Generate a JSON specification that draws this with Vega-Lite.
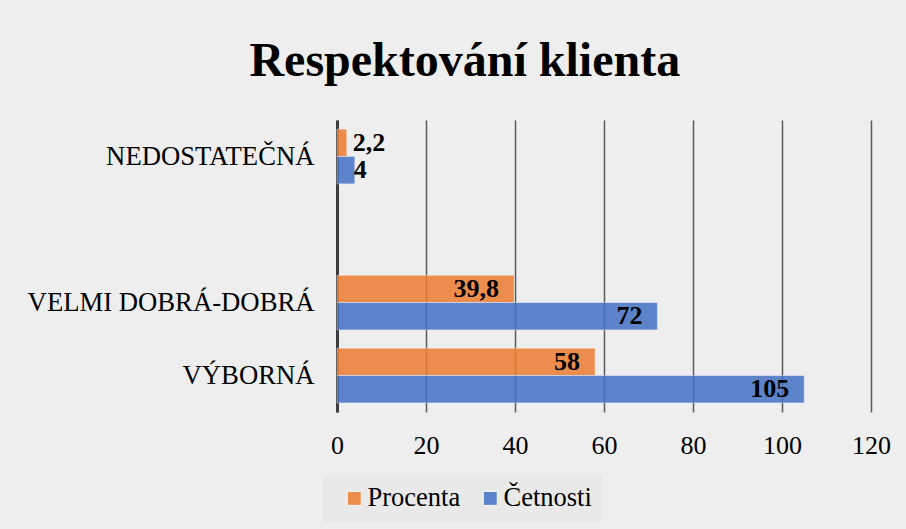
{
  "$schema": "https://vega.github.io/schema/vega-lite/v6.json",
  "width": 534,
  "height": 292,
  "autosize": {"type": "none"},
  "padding": {"left": 337, "top": 120, "right": 35, "bottom": 117},
  "background": "#eeeeee",
  "title": {
    "text": "Respektování klienta",
    "font": "Liberation Serif",
    "fontSize": 48,
    "fontWeight": "bold",
    "color": "#000000",
    "anchor": "middle",
    "frame": "bounds",
    "offset": 34,
    "dx": 6
  },
  "data": {
    "values": [
      {"kategorie": "NEDOSTATEČNÁ", "serie": "Procenta", "hodnota": 2.2, "popisek": "2,2"},
      {"kategorie": "NEDOSTATEČNÁ", "serie": "Četnosti", "hodnota": 4, "popisek": "4"},
      {"kategorie": "VELMI DOBRÁ-DOBRÁ", "serie": "Procenta", "hodnota": 39.8, "popisek": "39,8"},
      {"kategorie": "VELMI DOBRÁ-DOBRÁ", "serie": "Četnosti", "hodnota": 72, "popisek": "72"},
      {"kategorie": "VÝBORNÁ", "serie": "Procenta", "hodnota": 58, "popisek": "58"},
      {"kategorie": "VÝBORNÁ", "serie": "Četnosti", "hodnota": 105, "popisek": "105"}
    ]
  },
  "encoding": {
    "y": {
      "field": "kategorie",
      "type": "nominal",
      "title": null,
      "scale": {
        "domain": ["NEDOSTATEČNÁ", " ", "VELMI DOBRÁ-DOBRÁ", "VÝBORNÁ"],
        "paddingInner": 0.25,
        "paddingOuter": 0.125
      },
      "axis": {
        "ticks": false,
        "domain": true,
        "domainColor": "#3c3c3c",
        "domainWidth": 3,
        "labelFont": "Liberation Serif",
        "labelFontSize": 26.7,
        "labelColor": "#000000",
        "labelPadding": 23,
        "labelLimit": 400,
        "grid": false
      }
    },
    "yOffset": {
      "field": "serie",
      "type": "nominal",
      "sort": ["Procenta", "Četnosti"],
      "scale": {"paddingInner": 0, "paddingOuter": 0}
    },
    "x": {
      "field": "hodnota",
      "type": "quantitative",
      "title": null,
      "scale": {"domain": [0, 120], "nice": false},
      "axis": {
        "values": [0, 20, 40, 60, 80, 100, 120],
        "ticks": false,
        "domain": false,
        "grid": true,
        "gridColor": "#5a5a5a",
        "gridWidth": 1.5,
        "labelFont": "Liberation Serif",
        "labelFontSize": 26,
        "labelColor": "#000000",
        "labelPadding": 20,
        "labelFlush": false,
        "labelOverlap": false,
        "labelBound": false
      }
    }
  },
  "layer": [
    {
      "mark": {"type": "bar", "opacity": 0.85, "stroke": "#ffffff", "strokeOpacity": 0.45, "strokeWidth": 1},
      "encoding": {
        "color": {
          "field": "serie",
          "type": "nominal",
          "title": null,
          "scale": {"domain": ["Procenta", "Četnosti"], "range": ["#ED7D31", "#4472C4"]},
          "legend": {
            "orient": "none",
            "legendX": -14,
            "legendY": 355,
            "direction": "horizontal",
            "fillColor": "#e9e9e9",
            "padding": 10,
            "symbolType": "square",
            "symbolSize": 196,
            "symbolOpacity": 0.85,
            "symbolStrokeColor": "#ffffff",
            "symbolStrokeWidth": 1,
            "symbolOffset": 8,
            "labelFont": "Liberation Serif",
            "labelFontSize": 26.5,
            "labelColor": "#000000",
            "labelOffset": 0,
            "labelLimit": 300,
            "columnPadding": 8
          }
        }
      }
    },
    {
      "transform": [{"filter": "datum.hodnota >= 10"}],
      "mark": {"type": "text", "align": "right", "baseline": "middle", "dx": -15, "font": "Liberation Serif", "fontWeight": "bold", "fontSize": 26, "color": "#000000"},
      "encoding": {"text": {"field": "popisek", "type": "nominal"}}
    },
    {
      "transform": [{"filter": "datum.hodnota < 10 && datum.serie == 'Procenta'"}],
      "mark": {"type": "text", "align": "left", "baseline": "middle", "dx": 6, "font": "Liberation Serif", "fontWeight": "bold", "fontSize": 26, "color": "#000000"},
      "encoding": {"text": {"field": "popisek", "type": "nominal"}}
    },
    {
      "transform": [{"filter": "datum.hodnota < 10 && datum.serie == 'Četnosti'"}],
      "mark": {"type": "text", "align": "left", "baseline": "middle", "dx": -1, "font": "Liberation Serif", "fontWeight": "bold", "fontSize": 26, "color": "#000000"},
      "encoding": {"text": {"field": "popisek", "type": "nominal"}}
    }
  ],
  "config": {
    "view": {"stroke": null}
  }
}
